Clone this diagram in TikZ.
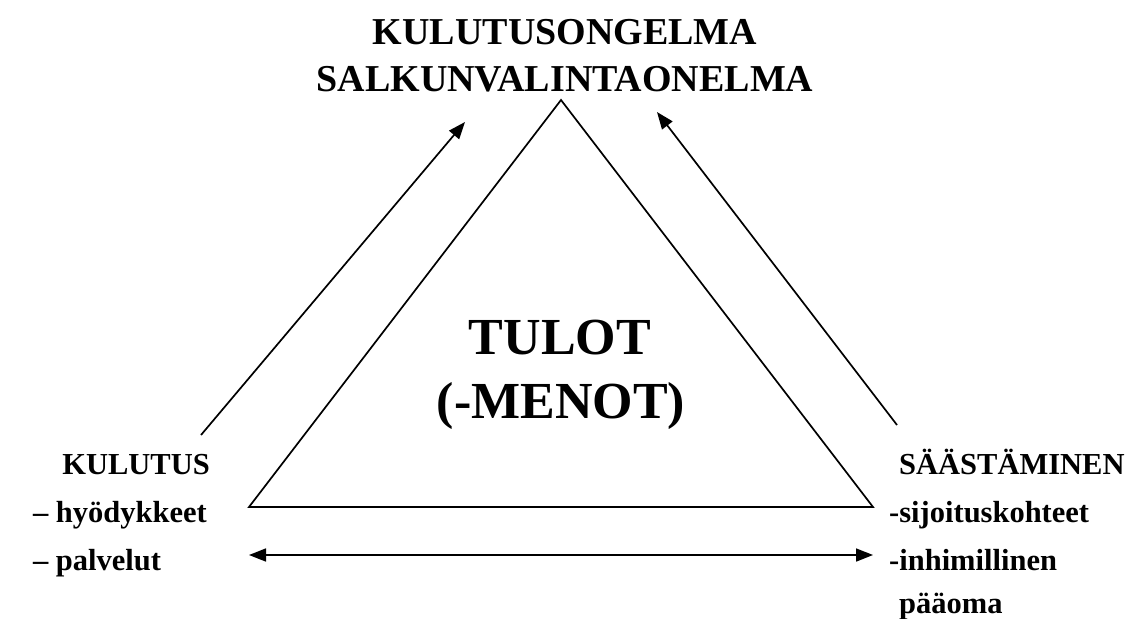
\documentclass[tikz,border=0pt]{standalone}
\usepackage{fontspec}
\setmainfont{Liberation Serif}
\usetikzlibrary{arrows.meta,calc}
\tikzset{
  every picture/.style={x=1pt, y=-1pt, >={Triangle[length=17pt,width=13pt]}},
  otsikko/.style={font=\fontsize{38}{45}\selectfont\bfseries, inner sep=0pt},
  lbl/.style={font=\fontsize{30.5}{36}\selectfont\bfseries, inner sep=0pt},
  iso/.style={font=\fontsize{52}{60}\selectfont\bfseries, inner sep=0pt},
  viiva/.style={line width=1.7pt},
  nuoli/.style={line width=1.7pt, ->},
}
\def\rivi{48}
\begin{document}
\begin{tikzpicture}
  \useasboundingbox (0,0) rectangle (1134,618);
  % otsikot
  \node[otsikko, anchor=base] (kulutusongelma) at (565,45) {KULUTUSONGELMA};
  \node[otsikko, anchor=base] (salkunvalinta) at (565,91) {SALKUNVALINTAONELMA};
  % kolmio
  \coordinate (huippu) at (561,100);
  \coordinate (vasen) at (249,507);
  \coordinate (oikea) at (873,507);
  \draw[viiva, line join=miter] (huippu) -- (oikea) -- (vasen) -- cycle;
  \node[iso, anchor=base] (tulot) at (560,354) {TULOT};
  \node[iso, anchor=base] (menot) at (561,418) {(-MENOT)};
  % vasen laita
  \node[lbl, anchor=base east] (kulutus) at (210,474) {KULUTUS};
  \node[lbl, anchor=base east] (hyodykkeet) at (207,522) {-- hyödykkeet};
  \node[lbl, anchor=base west] (palvelut) at ($(hyodykkeet.base west)+(0,\rivi)$) {-- palvelut};
  % oikea laita
  \node[lbl, anchor=base west] (saastaminen) at (899,474) {SÄÄSTÄMINEN};
  \node[lbl, anchor=base west] (sijoitus) at (889,522) {-sijoituskohteet};
  \node[lbl, anchor=base west] (inhimillinen) at (889,570) {-inhimillinen};
  \node[lbl, anchor=base west] (paaoma) at (899,613) {pääoma};
  % nuolet
  \coordinate (vasalku) at (201,435);
  \coordinate (vaskarki) at (465,122);
  \coordinate (oikalku) at (897,425);
  \coordinate (oikkarki) at (657,112);
  \coordinate (alavas) at (249,555);
  \coordinate (alaoik) at (873,555);
  \draw[nuoli] (vasalku) -- (vaskarki);
  \draw[nuoli] (oikalku) -- (oikkarki);
  \draw[nuoli, <->] (alavas) -- (alaoik);
\end{tikzpicture}
\end{document}
